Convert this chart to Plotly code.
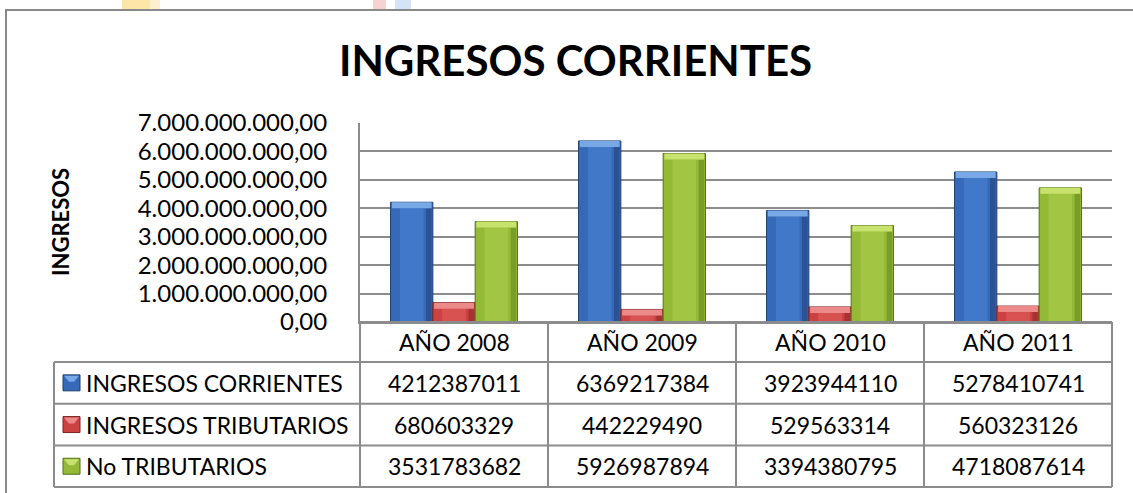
import plotly.graph_objects as go

# ---------------- data ----------------
categories = ["AÑO 2008", "AÑO 2009", "AÑO 2010", "AÑO 2011"]
series_names = ["INGRESOS CORRIENTES", "INGRESOS TRIBUTARIOS", "No TRIBUTARIOS"]
ingresos_corrientes = [4212387011, 6369217384, 3923944110, 5278410741]
ingresos_tributarios = [680603329, 442229490, 529563314, 560323126]
no_tributarios = [3531783682, 5926987894, 3394380795, 4718087614]
y_ticks = [0, 1e9, 2e9, 3e9, 4e9, 5e9, 6e9, 7e9]
title_text = "INGRESOS CORRIENTES"
y_title = "INGRESOS"

series_values = [ingresos_corrientes, ingresos_tributarios, no_tributarios]

# ---------------- styles ----------------
colors = [
    dict(main="#3669B8", light="#4278C8", dark="#2A5294", cap="#78A8E6", edge="#1F3F70"),
    dict(main="#CC4242", light="#D85252", dark="#A83232", cap="#EC8A8A", edge="#7A2424"),
    dict(main="#93B936", light="#A2C644", dark="#7A9C2A", cap="#C8E26E", edge="#56701C"),
]
GRID = "#8C8C8C"
FONT = "Lato"

W, H = 1133, 493
L, R, T, B = 360, 21, 123, 171
PW, PH = W - L - R, H - T - B
YMAX = 7e9


def px(xp):
    return (xp - L) / PW


def py(yp):
    return (H - B - yp) / PH


bw = 0.225                      # bar width (category units)
cap = 6 * YMAX / PH             # bevel cap height (≈6 px in data units)

fig = go.Figure()
for j, vals in enumerate(series_values):
    c = colors[j]
    off = -1.5 * bw + j * bw
    body = [max(v - cap, 0) for v in vals]
    fig.add_bar(x=categories, y=vals, offset=off, width=bw,
                marker=dict(color=c["main"], line=dict(color=c["edge"], width=1)),
                showlegend=False, name=series_names[j])
    fig.add_bar(x=categories, y=body, offset=off + bw * 0.22, width=bw * 0.56,
                marker=dict(color=c["light"], line=dict(width=0)),
                showlegend=False, hoverinfo="skip")
    fig.add_bar(x=categories, y=body, offset=off + bw * 0.84, width=bw * 0.13,
                marker=dict(color=c["dark"], line=dict(width=0)),
                showlegend=False, hoverinfo="skip")
    fig.add_bar(x=categories, y=[min(cap, v) for v in vals], base=body,
                offset=off + bw * 0.03, width=bw * 0.94,
                marker=dict(color=c["cap"], line=dict(width=0)),
                showlegend=False, hoverinfo="skip")

shapes = []
annotations = []

# faint watermark at the very top
for x0, x1, col in [(122, 150, "#FCE6A8"), (150, 160, "#FDEFD0"),
                    (373, 386, "#F6D2D2"), (395, 411, "#D4E4F4")]:
    shapes.append(dict(type="rect", xref="paper", yref="paper", x0=px(x0), x1=px(x1),
                       y0=py(10), y1=py(0), fillcolor=col, line=dict(width=0), layer="below"))

# chart border
shapes.append(dict(type="rect", xref="paper", yref="paper", x0=px(6), x1=px(1140),
                   y0=py(505), y1=py(10), line=dict(color="#8A8A8A", width=2),
                   fillcolor="rgba(0,0,0,0)"))

# data table geometry
axis_y = 322
header_h = 40
row_h = 41.7
leg_left = 54
row_edges = [axis_y + header_h + k * row_h for k in range(len(series_names) + 1)]
n = len(categories)
col_edges = [k / n for k in range(n + 1)]

line_style = dict(color=GRID, width=2)
# horizontal lines
shapes.append(dict(type="line", xref="paper", yref="paper", x0=0, x1=1,
                   y0=py(axis_y), y1=py(axis_y), line=line_style))
for ye in row_edges:
    shapes.append(dict(type="line", xref="paper", yref="paper", x0=px(leg_left), x1=1,
                       y0=py(ye), y1=py(ye), line=line_style))
# vertical lines
for xe in col_edges:
    shapes.append(dict(type="line", xref="paper", yref="paper", x0=xe, x1=xe,
                       y0=py(axis_y), y1=py(row_edges[-1]), line=line_style))
shapes.append(dict(type="line", xref="paper", yref="paper", x0=px(leg_left), x1=px(leg_left),
                   y0=py(row_edges[0]), y1=py(row_edges[-1]), line=line_style))

# header labels
for cat in categories:
    annotations.append(dict(x=cat, xref="x", y=py(axis_y + header_h / 2), yref="paper",
                            text=cat, showarrow=False, xanchor="center", yanchor="middle",
                            font=dict(family=FONT, size=23, color="black")))

# rows
for j, (name, vals) in enumerate(zip(series_names, series_values)):
    yc = (row_edges[j] + row_edges[j + 1]) / 2
    c = colors[j]
    # legend key
    shapes.append(dict(type="rect", xref="paper", yref="paper", x0=px(63), x1=px(80),
                       y0=py(yc + 8), y1=py(yc - 8), fillcolor=c["main"],
                       line=dict(color=c["edge"], width=1)))
    shapes.append(dict(type="path", xref="paper", yref="paper",
                       path=f"M {px(64)},{py(yc - 7)} L {px(79)},{py(yc - 7)} L {px(74)},{py(yc - 1)} L {px(69)},{py(yc - 1)} Z",
                       fillcolor=c["cap"], line=dict(width=0)))
    annotations.append(dict(x=px(84), xref="paper", y=py(yc), yref="paper", text=name,
                            showarrow=False, xanchor="left", yanchor="middle",
                            font=dict(family=FONT, size=23, color="black")))
    for cat, v in zip(categories, vals):
        annotations.append(dict(x=cat, xref="x", y=py(yc), yref="paper", text=str(v),
                                showarrow=False, xanchor="center", yanchor="middle",
                                font=dict(family=FONT, size=23, color="black")))

# title & axis title
annotations.append(dict(x=px(575), xref="paper", y=py(60), yref="paper", text=f"<b>{title_text}</b>",
                        showarrow=False, xanchor="center", yanchor="middle",
                        font=dict(family=FONT, size=42, color="black")))
annotations.append(dict(x=px(60), xref="paper", y=py(222), yref="paper", text=f"<b>{y_title}</b>",
                        showarrow=False, xanchor="center", yanchor="middle", textangle=-90,
                        font=dict(family=FONT, size=22, color="black")))

fig.update_layout(
    width=W, height=H,
    margin=dict(l=L, r=R, t=T, b=B, autoexpand=False),
    paper_bgcolor="white", plot_bgcolor="white",
    barmode="overlay",
    separators=",.",
    font=dict(family=FONT, color="black"),
    shapes=shapes, annotations=annotations,
    xaxis=dict(type="category", categoryarray=categories, range=[-0.5, n - 0.5],
               showticklabels=False, showgrid=False, zeroline=False,
               showline=True, linecolor=GRID, linewidth=2, ticks=""),
    yaxis=dict(range=[0, YMAX], tickvals=y_ticks, tickformat=",.2f",
               showgrid=True, gridcolor=GRID, gridwidth=2, zeroline=False,
               showline=True, linecolor=GRID, linewidth=2, ticks="",
               ticklabelstandoff=26,
               tickfont=dict(family=FONT, size=24, color="black")),
)

fig.write_html("out.html", config={"displayModeBar": False},
               post_script="document.body.style.margin='0';document.body.style.overflow='hidden';")
